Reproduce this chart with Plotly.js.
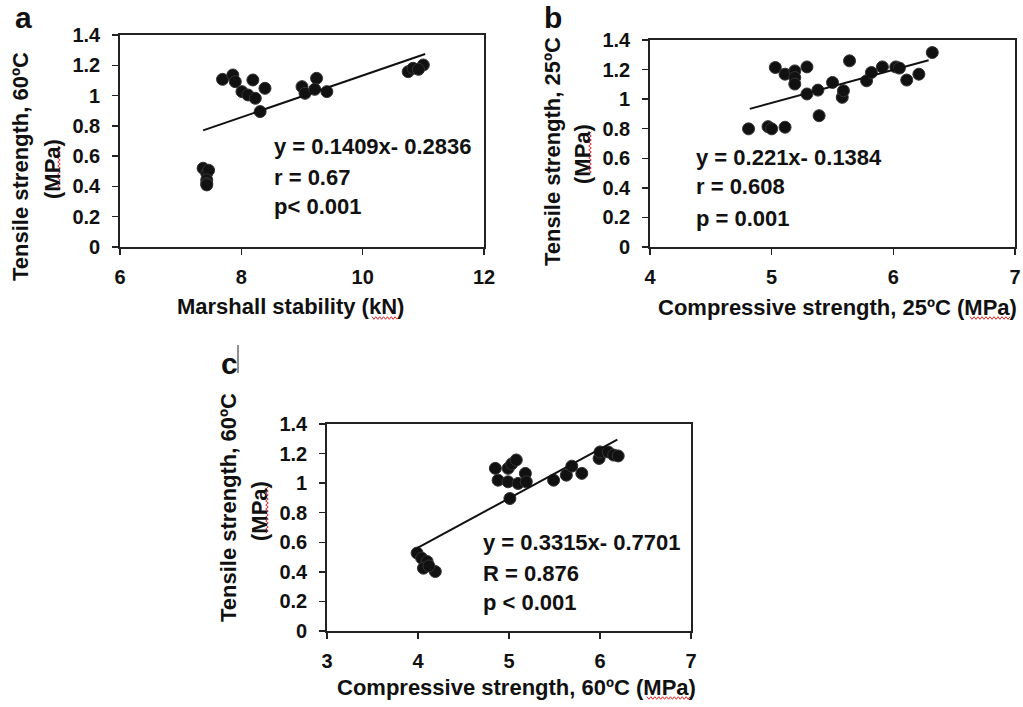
<!DOCTYPE html>
<html>
<head>
<meta charset="utf-8">
<script src="https://cdn.plot.ly/plotly-3.0.1.min.js"></script>
<style>html,body{margin:0;padding:0;background:#fff;}#chart{width:1023px;height:707px;}</style>
</head>
<body>
<div id="chart"></div>
<script>
// ---- Data ----
// Panel a: Marshall stability (kN) vs tensile strength 60ºC (MPa)
const aX = [7.69, 7.86, 7.90, 8.19, 8.39, 8.01, 8.11, 8.23, 8.31, 9.00, 9.05, 9.24, 9.21, 9.41, 10.75, 10.83, 11.00, 10.92, 7.37, 7.43, 7.46, 7.43, 7.43, 7.43];
const aY = [1.107, 1.136, 1.092, 1.103, 1.048, 1.026, 1.004, 0.982, 0.894, 1.059, 1.015, 1.114, 1.041, 1.026, 1.158, 1.180, 1.202, 1.173, 0.520, 0.487, 0.507, 0.443, 0.420, 0.410];
const aTrendX = [7.37, 11.03];
const aTrendY = [0.770, 1.275];
const aStats = ["y = 0.1409x- 0.2836", "r = 0.67", "p< 0.001"];

// Panel b: compressive strength 25ºC vs tensile strength 25ºC
const bX = [4.81, 4.97, 5.00, 5.11, 5.03, 5.11, 5.19, 5.19, 5.19, 5.29, 5.29, 5.38, 5.39, 5.50, 5.58, 5.59, 5.64, 5.78, 5.82, 5.91, 6.02, 6.05, 6.11, 6.21, 6.32];
const bY = [0.799, 0.814, 0.799, 0.810, 1.214, 1.169, 1.191, 1.146, 1.102, 1.218, 1.035, 1.061, 0.888, 1.113, 1.012, 1.057, 1.259, 1.124, 1.180, 1.218, 1.218, 1.210, 1.129, 1.169, 1.315];
const bTrendX = [4.82, 6.29];
const bTrendY = [0.934, 1.263];
const bStats = ["y = 0.221x- 0.1384", "r = 0.608", "p = 0.001"];

// Panel c: compressive strength 60ºC vs tensile strength 60ºC
const cX = [3.99, 4.04, 4.10, 4.06, 4.19, 4.12, 4.85, 4.88, 4.99, 5.03, 5.08, 4.99, 5.10, 5.18, 5.19, 5.01, 5.49, 5.63, 5.69, 5.80, 5.99, 6.00, 6.09, 6.15, 6.20];
const cY = [0.527, 0.493, 0.470, 0.425, 0.402, 0.440, 1.100, 1.020, 1.100, 1.130, 1.157, 1.009, 0.998, 1.066, 1.009, 0.896, 1.020, 1.054, 1.115, 1.066, 1.167, 1.211, 1.211, 1.190, 1.184];
const cTrendX = [3.99, 6.19];
const cTrendY = [0.560, 1.295];
const cStats = ["y = 0.3315x- 0.7701", "R = 0.876", "p < 0.001"];

// Axis ticks and titles
const yTickVals = [0, 0.2, 0.4, 0.6, 0.8, 1, 1.2, 1.4];
const yTickText = ["0", "0.2", "0.4", "0.6", "0.8", "1", "1.2", "1.4"];
const aXTicks = [6, 8, 10, 12];
const bXTicks = [4, 5, 6, 7];
const cXTicks = [3, 4, 5, 6, 7];
const panelLabels = ["a", "b", "c"];
const xTitles = ["Marshall stability (kN)", "Compressive strength, 25ºC (MPa)", "Compressive strength, 60ºC (MPa)"];
const yTitles1 = ["Tensile strength, 60ºC", "Tensile strength, 25ºC", "Tensile strength, 60ºC"];
const yTitle2 = "(MPa)";

// ---- Layout helpers ----
const W = 1023, H = 707;
const px = x => x / W;
const py = y => 1 - y / H;
const FONT = "Arial, 'Liberation Sans', Helvetica, sans-serif";
const INK = "#111";

function scatter(x, y, xa, ya) {
  return {x: x, y: y, xaxis: xa, yaxis: ya, type: "scatter", mode: "markers",
    marker: {size: 12, color: "#111", line: {width: 1, color: "#333"}}, hoverinfo: "skip"};
}
function trend(x, y, xa, ya) {
  return {x: x, y: y, xaxis: xa, yaxis: ya, type: "scatter", mode: "lines",
    line: {color: "#111", width: 2}, hoverinfo: "skip"};
}
function xAxis(dom, range, ticks, anchor) {
  return {domain: [px(dom[0]), px(dom[1])], range: range, tickvals: ticks, ticktext: ticks.map(String),
    ticks: "outside", ticklen: 6, tickwidth: 1.5, tickcolor: "#222", showline: true, mirror: true,
    linecolor: "#222", linewidth: 1.8, showgrid: false, zeroline: false, anchor: anchor,
    ticklabelstandoff: 5, fixedrange: true,
    tickfont: {family: FONT, size: 20, color: INK, weight: 700}};
}
function yAxis(dom, anchor) {
  return {domain: [py(dom[1]), py(dom[0])], range: [0, 1.4], tickvals: yTickVals, ticktext: yTickText,
    ticks: "outside", ticklen: 6, tickwidth: 1.5, tickcolor: "#222", showline: true, mirror: true,
    linecolor: "#222", linewidth: 1.8, showgrid: false, zeroline: false, anchor: anchor,
    ticklabelstandoff: 8, fixedrange: true,
    tickfont: {family: FONT, size: 20, color: INK, weight: 700}};
}
function txt(text, x, y, opts) {
  return Object.assign({text: text, x: px(x), y: py(y), xref: "paper", yref: "paper", showarrow: false,
    xanchor: "center", yanchor: "middle", borderpad: 0,
    font: {family: FONT, size: 22, color: INK, weight: 700}}, opts || {});
}
// red spell-check squiggle between two pixel points (decoration)
function squiggle(x0, y0, x1, y1) {
  const len = Math.hypot(x1 - x0, y1 - y0), n = Math.max(2, Math.round(len / 2));
  const ux = (x1 - x0) / len, uy = (y1 - y0) / len, nx = -uy, ny = ux;
  let d = "";
  for (let i = 0; i <= n; i++) {
    const t = i / n * len, a = (i % 2 ? 1.3 : -1.3);
    const X = x0 + ux * t + nx * a, Y = y0 + uy * t + ny * a;
    d += (i ? " L" : "M") + px(X).toFixed(5) + "," + py(Y).toFixed(5);
  }
  return {type: "path", xref: "paper", yref: "paper", path: d, line: {color: "#e0282a", width: 1}};
}

const data = [
  scatter(aX, aY, "x", "y"), trend(aTrendX, aTrendY, "x", "y"),
  scatter(bX, bY, "x2", "y2"), trend(bTrendX, bTrendY, "x2", "y2"),
  scatter(cX, cY, "x3", "y3"), trend(cTrendX, cTrendY, "x3", "y3")
];

const LBL = {family: FONT, size: 30, color: INK, weight: 700};
const annotations = [
  // panel letters
  txt(panelLabels[0], 23, 0, {yanchor: "top", font: LBL}),
  txt(panelLabels[1], 553, 0, {yanchor: "top", font: LBL}),
  txt(panelLabels[2], 229, 346, {yanchor: "top", font: LBL}),
  // x titles
  txt(xTitles[0], 290, 306),
  txt(xTitles[1], 837, 307),
  txt(xTitles[2], 516, 687),
  // y titles (two lines each)
  txt(yTitles1[0], 20, 167, {textangle: -90}),
  txt(yTitle2, 52, 169, {textangle: -90}),
  txt(yTitles1[1], 552, 152, {textangle: -90}),
  txt(yTitle2, 583, 154, {textangle: -90}),
  txt(yTitles1[2], 228, 508, {textangle: -90}),
  txt(yTitle2, 259, 511, {textangle: -90}),
];
// statistics text
const statPos = [[273, [146, 177, 206]], [695, [157, 187, 218]], [482, [542, 573, 602]]];
[aStats, bStats, cStats].forEach((s, i) => {
  s.forEach((line, j) => annotations.push(txt(line, statPos[i][0], statPos[i][1][j], {xanchor: "left"})));
});

const layout = {
  width: W, height: H, margin: {l: 0, r: 0, t: 0, b: 0},
  paper_bgcolor: "#fff", plot_bgcolor: "#fff", showlegend: false,
  xaxis: xAxis([120, 484], [6, 12], aXTicks, "y"),
  yaxis: yAxis([35, 247], "x"),
  xaxis2: xAxis([650, 1015], [4, 7], bXTicks, "y2"),
  yaxis2: yAxis([40, 247], "x2"),
  xaxis3: xAxis([327, 691], [3, 7], cXTicks, "y3"),
  yaxis3: yAxis([424, 631], "x3"),
  annotations: annotations,
  shapes: [
    {type: "line", xref: "paper", yref: "paper", x0: px(238), x1: px(238), y0: py(345), y1: py(373),
     line: {color: "#222", width: 1}},
    squiggle(372, 318, 397, 318),
    squiggle(970, 318, 1010, 318),
    squiggle(647, 698, 690, 698),
    squiggle(59, 190, 59, 146),
    squiggle(590, 174, 590, 132),
    squiggle(267, 533, 267, 487)
  ]
};

Plotly.newPlot("chart", data, layout, {displayModeBar: false, staticPlot: true});
</script>
</body>
</html>
